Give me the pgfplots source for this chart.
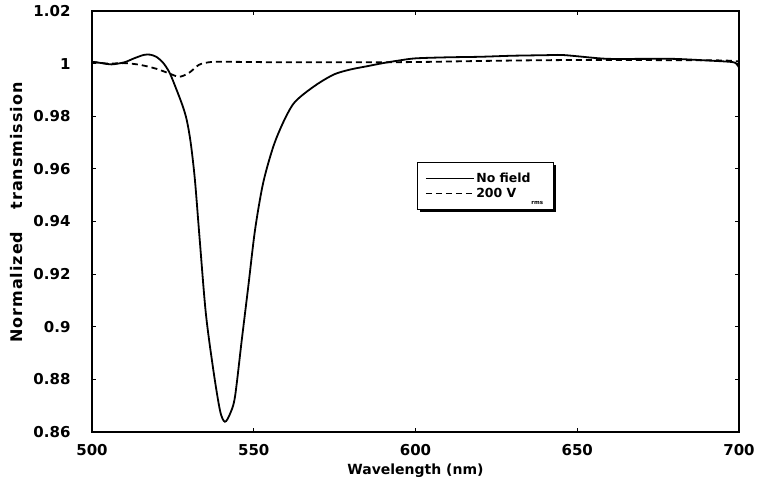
\documentclass[border=0pt]{standalone}
\usepackage{fontspec}
\setmainfont{DejaVu Sans}
\usepackage{pgfplots}
\pgfplotsset{compat=1.18}
\usetikzlibrary{shadows}
\makeatletter
\tikzset{no preactions/.code={\let\tikz@preactions\pgfutil@empty}}
\makeatother

\begin{document}
\begin{tikzpicture}
\begin{axis}[
    scale only axis,
    width  = 647pt,
    height = 421pt,
    xmin = 500, xmax = 700,
    ymin = 0.86, ymax = 1.02,
    xtick = {500,550,...,700},
    ytick = {0.86,0.88,...,1.02},
    tick align = inside,
    major tick length = 4pt,
    minor tick num = 0,
    axis line style = {line width=1.1pt},
    every tick/.style = {black, line width=0.9pt},
    /pgf/number format/assume math mode=true,
    ticklabel style = {font=\fontsize{15}{18}\selectfont\bfseries},
    yticklabel style = {xshift=-18pt},
    xticklabel style = {yshift=-9pt},
    xlabel = {Wavelength (nm)},
    ylabel = {Normalized\hspace{1.4em}transmission},
    xlabel style = {font=\fontsize{14}{16}\selectfont\bfseries, yshift=-1pt},
    ylabel style = {font=\fontsize{16}{18}\selectfont\bfseries\addfontfeature{LetterSpace=6},
                    yshift=4pt, xshift=9pt},
    legend cell align = left,
    legend style = {
        at = {(0.502,0.641)}, anchor = north west,
        font = \fontsize{12.5}{15}\selectfont\bfseries,
        draw = black, line width = 1pt, fill = white,
        drop shadow = {shadow xshift=2.5pt, shadow yshift=-2.5pt, fill=black, opacity=1},
        inner xsep = 8pt, inner ysep = 8.5pt,
        row sep = 0pt,
    },
    legend image code/.code = {
        \draw[no preactions, #1, line width=1pt] (0pt,0pt) -- (48pt,0pt);
    },
]

% no field
\addplot[black, line width=1.8pt, smooth] coordinates {
    (500,1.0007)(503,1.0002)(506,0.9997)(510,1.0005)(513,1.0020)
    (516,1.0033)(518,1.0034)(520,1.0025)(522,1.0003)(524,0.9965)
    (526,0.9905)(528,0.9840)(529.3,0.9785)(530.5,0.9700)(531.8,0.9560)
    (533.3,0.9330)(535.2,0.9050)(537.5,0.8836)(539.6,0.8680)(541.1,0.8639)
    (542.7,0.8670)(544.2,0.8734)(546.3,0.8950)(548.3,0.9152)(550.4,0.9368)
    (552.9,0.9546)(556,0.9683)(559,0.9774)(562,0.9843)
    (565,0.9880)(570,0.9925)(575,0.9960)(580,0.9978)(585,0.9990)
    (590,1.0002)(595,1.0012)(600,1.0020)(610,1.0024)(620,1.0026)
    (630,1.0030)(640,1.0032)(645,1.0033)(650,1.0028)(655,1.0022)
    (660,1.0018)(670,1.0018)(680,1.0018)(690,1.0012)(697,1.0007)
    (699,1.0002)(700,0.9985)};
\addlegendentry{No field}

% 200 V rms
\addplot[black, line width=1.8pt, dash pattern=on 6pt off 4pt, smooth] coordinates {
    (500,1.0007)(505,1.0000)(510,1.0002)(515,0.9995)(520,0.9980)
    (524,0.9962)(527,0.9950)(530,0.9965)(533,0.9995)(536,1.0005)
    (540,1.0007)(550,1.0006)(560,1.0005)(580,1.0005)(600,1.0006)
    (620,1.0010)(640,1.0013)(660,1.0014)(680,1.0013)(695,1.0012)
    (700,1.0008)};
\addlegendentry{200 V\hspace{15pt}\raisebox{-7pt}{\fontsize{5.5}{6}\selectfont rms}}

\end{axis}
\pgfresetboundingbox
\path ([xshift=-92pt,yshift=-54pt]current axis.south west)
    rectangle ([xshift=18pt,yshift=11pt]current axis.north east);
\end{tikzpicture}
\end{document}
